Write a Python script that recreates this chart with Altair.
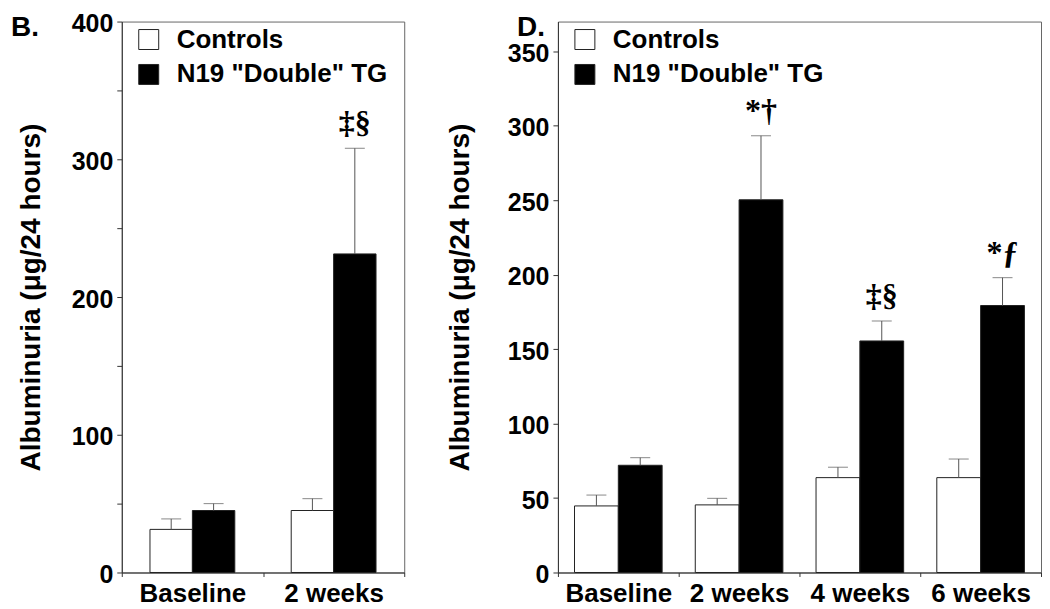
import altair as alt
import pandas as pd

groups = ["Controls", 'N19 "Double" TG']

categories_b = ["Baseline", "2 weeks"]
controls_b = [31.3, 45.0]
controls_b_err = [7.6, 8.6]
tg_b = [45.0, 231.3]
tg_b_err = [5.0, 76.7]
marks_b = ["", "‡§"]

categories_d = ["Baseline", "2 weeks", "4 weeks", "6 weeks"]
controls_d = [44.7, 45.4, 63.7, 63.7]
controls_d_err = [7.3, 4.4, 7.0, 12.5]
tg_d = [72.0, 250.3, 155.5, 179.3]
tg_d_err = [5.1, 43.0, 13.4, 18.7]
marks_d = ["", "*†", "‡§", "*ƒ"]

SANS = "Liberation Sans"
SERIF = "Liberation Serif"


def make_df(cats, c, ce, t, te, marks):
    rows = []
    for i, cat in enumerate(cats):
        rows.append({"period": cat, "group": groups[0], "value": c[i], "top": c[i] + ce[i], "mark": ""})
        rows.append({"period": cat, "group": groups[1], "value": t[i], "top": t[i] + te[i], "mark": marks[i]})
    return pd.DataFrame(rows)


def panel(df, cats, ymax, tick_step, label_step, width, height, pad_outer,
          letter, letter_x, title_padding, legend_x, legend_y):
    x = alt.X("period:N", sort=cats,
              scale=alt.Scale(paddingInner=0, paddingOuter=0),
              axis=alt.Axis(title=None, labelAngle=0, labelFontSize=26, labelFont=SANS,
                            labelFontWeight="bold", labelColor="black", tickBand="extent",
                            tickSize=4, labelPadding=4, domainColor="#333", tickColor="#333"))
    xo = alt.XOffset("group:N", sort=groups,
                     scale=alt.Scale(paddingInner=0, paddingOuter=pad_outer))
    yaxis = alt.Axis(values=list(range(0, int(ymax) + 1, tick_step)),
                     labelExpr=f"datum.value % {label_step} == 0 ? datum.label : ''",
                     grid=False, tickSize=5, labelFontSize=25, labelFont=SANS,
                     labelFontWeight="bold", labelColor="black", labelPadding=4,
                     labelOffset=2,
                     title="Albuminuria (μg/24 hours)", titleFontSize=28, titleFont=SANS,
                     titleFontWeight="bold", titleColor="black", titlePadding=title_padding,
                     domainColor="#333", tickColor="#333")
    yscale = alt.Scale(domain=[0, ymax], nice=False, zero=True)
    base = alt.Chart(df)
    bars = base.mark_bar(stroke="#222", strokeWidth=1).encode(
        x=x, xOffset=xo,
        y=alt.Y("value:Q", scale=yscale, axis=yaxis),
        color=alt.Color("group:N", sort=groups,
                        scale=alt.Scale(domain=groups, range=["white", "black"]),
                        legend=alt.Legend(title=None, orient="none", legendX=legend_x,
                                          legendY=legend_y, symbolType="square",
                                          symbolSize=400, symbolStrokeColor="#222",
                                          symbolStrokeWidth=1, labelFontSize=26,
                                          labelFont=SANS, labelFontWeight="bold",
                                          labelColor="black", labelOffset=15,
                                          rowPadding=9, padding=0, symbolOpacity=1,
                                          labelLimit=400)),
    )
    rules = base.mark_rule(color="#555", strokeWidth=1).encode(
        x=x, xOffset=xo, y=alt.Y("value:Q", scale=yscale), y2="top:Q")
    caps = base.mark_tick(color="#555", thickness=1, size=20).encode(
        x=x, xOffset=xo, y=alt.Y("top:Q", scale=yscale))
    notes = base.mark_text(font=SERIF, fontSize=32, fontWeight="bold",
                           baseline="alphabetic", dy=-15, color="black").encode(
        x=x, xOffset=xo, y=alt.Y("top:Q", scale=yscale), text="mark:N")
    letter_mark = alt.Chart(pd.DataFrame({"t": [letter]})).mark_text(
        font=SANS, fontSize=28, fontWeight="bold", align="left", baseline="middle",
        color="black").encode(x=alt.value(letter_x), y=alt.value(6), text="t:N")
    return alt.layer(bars, rules, caps, notes, letter_mark).properties(
        width=width, height=height)


df_b = make_df(categories_b, controls_b, controls_b_err, tg_b, tg_b_err, marks_b)
df_d = make_df(categories_d, controls_d, controls_d_err, tg_d, tg_d_err, marks_d)

pb = panel(df_b, categories_b, 400, 50, 100, 283, 552, 0.665,
           "B.", -111, 26, 14, 5)
pd_ = panel(df_d, categories_d, 370, 25, 50, 484, 552, 0.378,
            "D.", -41, 33, 14, 5)

chart = alt.hconcat(pb, pd_, spacing=40).resolve_scale(
    x="independent", y="independent", xOffset="independent"
).resolve_legend(color="independent").properties(
    padding={"left": 2, "top": 2, "right": 0, "bottom": 0}
).configure_view(stroke="#666", strokeWidth=1)

chart.save("out.html", embed_options={"renderer": "svg", "actions": False})
